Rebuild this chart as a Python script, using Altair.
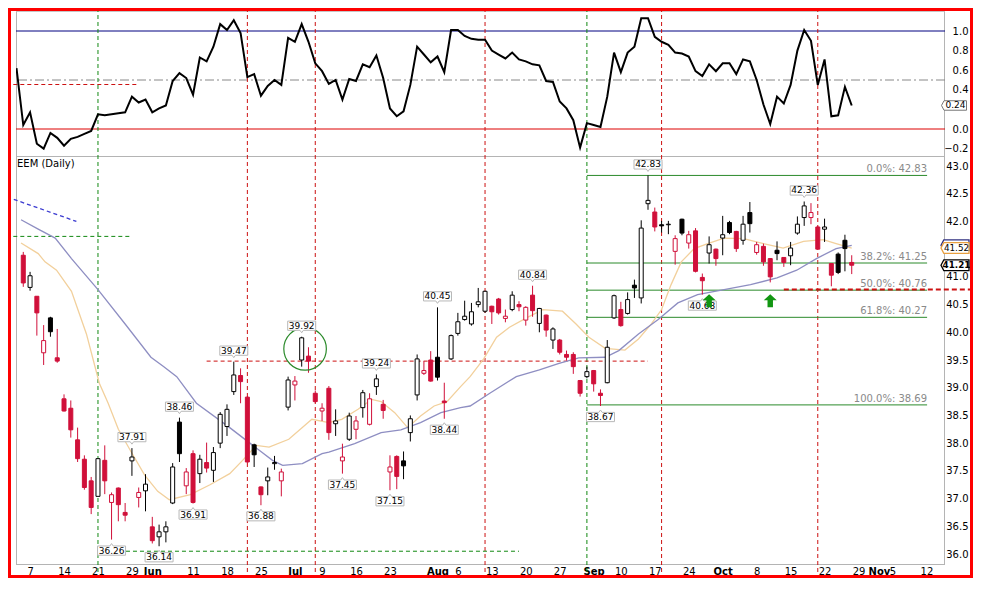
import json
import altair as alt
import pandas as pd

# ---------------- data ----------------
# trading-day index: 0 = May 4 2012 ... 122 = Oct 26 2012
day_idx = list(range(123))
prior_close = 41.50
opens = [41.39, 40.81, 40.65, 39.63, 40.26, 39.54, 38.80, 38.63, 38.06, 37.71,
         37.32, 37.04, 37.69, 36.93, 37.19, 36.75, 37.68, 37.02, 37.14, 36.49,
         36.31, 36.40, 36.92, 38.38, 37.23, 37.81, 37.45, 37.65, 37.51, 38.00,
         38.30, 38.93, 39.22, 38.83, 37.97, 37.21, 37.32, 37.63, 37.32, 38.65,
         39.05, 39.50, 39.57, 38.90, 38.58, 38.99, 38.35, 37.68, 38.07, 38.25,
         38.64, 38.34, 39.02, 38.70, 37.48, 37.76, 37.68, 38.19, 38.87, 39.26,
         39.50, 39.55, 38.76, 39.52, 39.98, 40.23, 40.15, 40.50, 40.38, 40.47,
         40.60, 40.25, 40.41, 40.50, 40.22, 40.67, 40.16, 40.31, 39.86, 39.86,
         39.60, 39.60, 39.13, 39.20, 39.31, 38.90, 39.09, 40.26, 40.41, 40.34,
         40.85, 40.62, 42.32, 42.17, 41.94, 41.94, 41.46, 42.04, 41.61, 41.83,
         40.99, 41.43, 41.50, 41.70, 41.98, 41.82, 41.66, 42.16, 41.44, 41.55,
         41.33, 41.48, 41.35, 41.38, 41.79, 42.07, 42.07, 41.90, 41.86, 41.24,
         41.41, 41.66, 41.26]
highs = [41.45, 41.09, 40.65, 40.13, 40.28, 40.06, 38.88, 38.77, 38.28, 37.78,
         37.39, 37.72, 37.96, 37.11, 37.20, 36.92, 37.91, 37.20, 37.44, 36.67,
         36.53, 36.59, 37.64, 38.46, 37.55, 37.87, 37.79, 38.01, 37.93, 38.56,
         38.70, 39.47, 39.35, 38.85, 37.99, 37.22, 37.56, 37.77, 37.54, 39.20,
         39.21, 39.92, 39.73, 38.95, 38.72, 39.03, 38.61, 37.99, 38.55, 38.49,
         38.96, 38.90, 39.24, 38.78, 37.78, 37.78, 37.85, 38.50, 39.60, 39.48,
         39.66, 40.45, 39.09, 39.96, 40.35, 40.57, 40.53, 40.80, 40.75, 40.48,
         40.62, 40.41, 40.74, 40.56, 40.47, 40.84, 40.44, 40.32, 40.09, 39.88,
         39.67, 39.64, 39.14, 39.38, 39.32, 38.97, 39.86, 40.68, 40.55, 40.72,
         40.95, 42.02, 42.83, 42.25, 42.01, 42.01, 41.75, 42.05, 41.83, 41.88,
         41.06, 41.73, 41.51, 42.10, 42.01, 41.83, 42.10, 42.35, 41.63, 41.60,
         41.34, 41.64, 41.35, 41.63, 42.09, 42.36, 42.33, 41.92, 42.05, 41.24,
         41.44, 41.76, 41.39]
lows = [40.82, 40.75, 39.94, 39.41, 39.92, 39.45, 38.57, 38.10, 37.66, 37.16,
        36.72, 37.04, 37.08, 36.26, 36.59, 36.59, 37.41, 36.84, 36.77, 36.19,
        36.14, 36.21, 36.90, 37.66, 37.08, 36.91, 37.28, 37.47, 37.30, 37.91,
        38.13, 38.87, 38.72, 37.64, 37.57, 36.88, 37.06, 37.52, 37.04, 38.59,
        38.77, 39.38, 39.27, 38.72, 38.40, 38.06, 38.13, 37.45, 38.04, 38.07,
        38.46, 38.32, 38.87, 38.44, 37.15, 37.17, 37.35, 38.03, 38.77, 39.23,
        39.11, 39.13, 38.44, 39.50, 39.94, 40.21, 40.12, 40.45, 40.35, 40.15,
        40.32, 40.18, 40.38, 40.38, 40.12, 40.28, 40.00, 39.92, 39.70, 39.60,
        39.49, 39.25, 38.84, 39.17, 38.93, 38.67, 39.08, 40.24, 40.10, 40.32,
        40.62, 40.52, 42.21, 41.82, 41.80, 41.77, 41.22, 41.75, 41.51, 41.08,
        40.68, 41.24, 41.20, 41.39, 41.77, 41.45, 41.58, 41.80, 41.40, 41.20,
        40.90, 41.30, 41.18, 41.21, 41.76, 41.92, 41.95, 41.50, 41.63, 40.83,
        41.05, 41.10, 41.05]
closes = [40.89, 41.02, 40.35, 39.85, 40.01, 39.48, 38.58, 38.24, 37.72, 37.20,
          36.84, 37.72, 37.32, 37.07, 36.89, 36.70, 37.75, 37.11, 37.26, 36.24,
          36.40, 36.49, 37.57, 37.81, 37.48, 36.93, 37.71, 37.55, 37.83, 38.52,
          38.61, 39.23, 39.11, 37.66, 37.79, 37.07, 37.39, 37.65, 37.48, 39.14,
          39.12, 39.90, 39.48, 38.75, 38.63, 38.19, 38.40, 37.75, 38.49, 38.40,
          38.91, 38.80, 39.16, 38.59, 37.57, 37.40, 37.59, 38.44, 39.52, 39.31,
          39.12, 39.19, 38.73, 39.94, 40.19, 40.29, 40.37, 40.55, 40.74, 40.37,
          40.35, 40.29, 40.67, 40.46, 40.45, 40.39, 40.43, 40.04, 40.06, 39.64,
          39.55, 39.38, 38.90, 39.29, 39.07, 38.86, 39.73, 40.66, 40.12, 40.59,
          40.80, 41.88, 42.38, 41.90, 41.92, 41.95, 41.69, 41.79, 41.76, 41.10,
          40.93, 41.58, 41.33, 41.76, 41.80, 41.51, 41.95, 41.96, 41.58, 41.27,
          41.00, 41.42, 41.26, 41.52, 41.95, 42.28, 42.16, 41.50, 41.90, 41.03,
          41.08, 41.51, 41.21]

# correlation indicator (upper panel)
corr_i = list(range(-1, 123))
corr_v = [0.62,
          0.04, 0.17, -0.15, -0.20, -0.04, -0.09, -0.17, -0.10, -0.08, -0.05, -0.02,
          0.15, 0.14, 0.15, 0.16, 0.17, 0.33, 0.27, 0.30, 0.17, 0.21,
          0.24, 0.49, 0.57, 0.52, 0.35, 0.73, 0.69, 0.84, 1.07, 1.01,
          1.11, 0.98, 0.53, 0.56, 0.34, 0.44, 0.50, 0.45, 0.93, 0.89,
          1.07, 0.89, 0.67, 0.59, 0.46, 0.50, 0.30, 0.51, 0.49, 0.66,
          0.63, 0.75, 0.52, 0.21, 0.13, 0.18, 0.45, 0.84, 0.76, 0.68,
          0.74, 0.58, 1.01, 1.01, 0.95, 0.92, 0.91, 0.91, 0.80, 0.76,
          0.72, 0.78, 0.71, 0.69, 0.66, 0.65, 0.49, 0.48, 0.28, 0.21,
          0.09, -0.19, 0.06, 0.04, 0.02, 0.33, 0.78, 0.58, 0.78, 0.84,
          1.13, 1.13, 0.94, 0.89, 0.86, 0.78, 0.77, 0.74, 0.59, 0.54,
          0.66, 0.59, 0.67, 0.67, 0.56, 0.71, 0.69, 0.50, 0.25, 0.05,
          0.33, 0.26, 0.45, 0.80, 1.01, 0.90, 0.45, 0.71, 0.13, 0.14,
          0.43, 0.24]
corr_grid = 1.2
corr_levels = {"blue": 1.0, "dashdot": 0.5, "red": 0.0}

# moving averages
tan_i = [-0.33, 2.2, 3.2, 4.9, 7.1, 9.3, 11.2, 12.5, 14.0, 15.9, 17.9, 19.8, 21.5, 24.6, 27.5,
         30.4, 32.3, 34.3, 36.2, 39.1, 42.5, 45.0, 46.9, 49.3, 51.3, 52.7, 54.7, 56.6, 58.5,
         60.5, 62.4, 64.4, 65.8, 67.8, 69.7, 71.6, 74.1, 76.5, 79.4, 81.4, 83.3, 85.7, 88.6,
         90.6, 92.5, 94.0, 95.4, 96.9, 98.8, 100.8, 103.2, 106.1, 109.0, 111.9, 114.9, 117.8,
         119.7, 122.0]
tan_p = [41.61, 41.42, 41.27, 41.12, 40.74, 39.97, 39.08, 38.72, 38.25, 37.84, 37.42, 37.13,
         36.98, 37.07, 37.25, 37.45, 37.69, 37.96, 37.93, 38.07, 38.43, 38.37, 38.43, 38.61,
         38.79, 38.75, 38.55, 38.28, 38.49, 38.67, 38.75, 39.02, 39.20, 39.52, 39.91, 40.09,
         40.26, 40.41, 40.38, 40.15, 39.91, 39.71, 39.68, 39.88, 40.15, 40.41, 40.86, 41.27,
         41.51, 41.60, 41.70, 41.69, 41.60, 41.52, 41.64, 41.67, 41.60, 41.52]
pur_i = [-0.33, 2.2, 4.7, 7.1, 11.0, 15.0, 18.8, 20.7, 22.6, 25.5, 30.4, 33.8, 36.7, 38.2,
         41.1, 44.0, 45.0, 48.8, 52.7, 55.6, 58.5, 61.5, 64.4, 65.8, 68.7, 72.6, 76.0, 78.9,
         81.8, 85.7, 87.7, 90.6, 93.5, 96.4, 99.3, 103.2, 107.1, 111.0, 113.9, 116.8, 119.7,
         122.0]
pur_p = [42.03, 41.86, 41.70, 41.33, 40.77, 40.15, 39.55, 39.38, 39.20, 38.72, 38.28, 37.96,
         37.69, 37.60, 37.63, 37.81, 37.84, 37.99, 38.19, 38.24, 38.37, 38.55, 38.64, 38.67,
         38.90, 39.20, 39.32, 39.44, 39.54, 39.55, 39.67, 39.97, 40.23, 40.53, 40.68, 40.77,
         40.86, 40.98, 41.12, 41.33, 41.51, 41.57]

# annotations
label_hi_idx = [16, 23, 31, 41, 52, 61, 75, 92, 115]
label_lo_idx = [13, 20, 25, 35, 47, 54, 62, 85, 100]
vline_red = [33, 43, 68, 94, 117]
vline_green = [11, 83]
fib_pct = [0.0, 38.2, 50.0, 61.8, 100.0]
fib_val = [42.83, 41.25, 40.76, 40.27, 38.69]
fib_from, fib_to = 83, 133.1
seg_top_red = ([-2.5], [16.7], [0.454])
seg_red = ([27], [92], [39.48])
seg_green = ([-2.5, 11], [16, 73], [41.73, 36.05])
seg_red_thick = ([112], [139.5], [40.77])
trend_i = [-2.37, 7.82]
trend_p = [42.44, 42.00]
circle_i, circle_p = [41.5], [39.70]
arrow_i, arrow_p = [101, 110], [40.57, 40.57]

tick_pos = [1, 6, 11, 16, 19, 25, 30, 35, 40, 44, 49, 54, 61, 64, 69, 74, 79, 84, 88, 93,
            98, 103, 108, 113, 118, 123, 126, 128, 133]
tick_txt = ["7", "14", "21", "29", "Jun", "11", "18", "25", "Jul", "9", "16", "23", "Aug",
            "6", "13", "20", "27", "Sep", "10", "17", "24", "Oct", "8", "15", "22", "29",
            "Nov", "5", "12"]
month_pos = [19, 40, 61, 84, 103, 126]
main_ticks = [36.0, 36.5, 37.0, 37.5, 38.0, 38.5, 39.0, 39.5, 40.0, 40.5, 41.0, 42.0, 42.5, 43.0]
top_ticks = [-0.2, 0.0, 0.4, 0.6, 0.8, 1.0]

# ---------------- styling ----------------
RED = "#d0103a"
FONT = "DejaVu Sans"
GREEN = "#2b8a2b"
DRED = "#cc1111"
BORDER = "#b4b4b4"
FRAME = "#ff0000"
W, H = 929, 557
SVG_W, SVG_H = 965, 570

xs = alt.Scale(domain=[-0.335, 135.0], nice=False, zero=False)
ts = alt.Scale(domain=[-0.2755, 1.2347], range=[148, 0], nice=False, zero=False)
ms = alt.Scale(domain=[35.8016, 43.1624], range=[557, 149], nice=False, zero=False)

XAXIS = alt.Axis(
    values=tick_pos,
    labelExpr=f"{json.dumps(tick_txt)}[indexof({json.dumps(tick_pos)}, datum.value)]",
    labelOverlap=False, labelFlush=False, grid=False, domain=False, ticks=False,
    labelFont=FONT, labelFontSize=10, labelColor="black", labelPadding=1,
    labelFontWeight={"condition": {"test": f"indexof({json.dumps(month_pos)}, datum.value) >= 0",
                                   "value": "bold"}, "value": "normal"},
)


def yaxis(vals):
    return alt.Axis(orient="right", values=vals, format=".1f", labelAlign="right",
                    labelPadding=23, ticks=False, tickSize=0, domain=False, grid=False,
                    labelOverlap=False, labelFont=FONT, labelFontSize=10,
                    labelColor="black", labelBaseline="middle")


def X(f="i"):
    return alt.X(f"{f}:Q", scale=xs, axis=XAXIS, title=None)


def YT(f, axis=None):
    return alt.Y(f"{f}:Q", scale=ts, axis=axis, title=None)


def YM(f, axis=None):
    return alt.Y(f"{f}:Q", scale=ms, axis=axis, title=None)


one = pd.DataFrame({"a": [0]})
layers = []

# ---- panel borders ----
layers.append(alt.Chart(one).mark_rule(color=BORDER).encode(x=alt.value(0.5), y=alt.value(0), y2=alt.value(H)))
layers.append(alt.Chart(one).mark_rule(color=BORDER).encode(x=alt.value(W - 0.5), y=alt.value(0), y2=alt.value(H)))
layers.append(alt.Chart(one).mark_rule(color=BORDER).encode(x=alt.value(0), x2=alt.value(W), y=alt.value(H - 0.5)))
layers.append(alt.Chart(one).mark_rule(color=BORDER).encode(x=alt.value(0), x2=alt.value(W), y=alt.value(148.5)))

# ---- upper panel ----
for val, col, dash in [(corr_grid, "#c0c0c0", None), (corr_levels["blue"], "#000080", None),
                       (corr_levels["dashdot"], "#888888", [9, 3, 2, 3]),
                       (corr_levels["red"], "#dd0000", None)]:
    kw = {"strokeDash": dash} if dash else {}
    layers.append(alt.Chart(pd.DataFrame({"v": [val]})).mark_rule(color=col, strokeWidth=1, **kw).encode(
        y=YT("v")))
sdf = pd.DataFrame({"i1": seg_top_red[0], "i2": seg_top_red[1], "v": seg_top_red[2]})
layers.append(alt.Chart(sdf).mark_rule(color=DRED, strokeDash=[4, 3]).encode(x=X("i1"), x2="i2", y=YT("v")))

# ---- vertical markers ----
layers.append(alt.Chart(pd.DataFrame({"i": vline_red})).mark_rule(color=DRED, strokeDash=[4, 3]).encode(
    x=X("i"), y=alt.value(0), y2=alt.value(567)))
layers.append(alt.Chart(pd.DataFrame({"i": vline_green})).mark_rule(color="#118811", strokeDash=[4, 3]).encode(
    x=X("i"), y=alt.value(0), y2=alt.value(567)))

# correlation line
layers.append(alt.Chart(pd.DataFrame({"i": corr_i, "v": corr_v})).mark_line(
    color="black", strokeWidth=2, clip=True).encode(x=X("i"), y=YT("v", yaxis(top_ticks))))

# ---- main panel ----
fdf = pd.DataFrame({"i1": [fib_from] * len(fib_val), "i2": [fib_to] * len(fib_val), "v": fib_val,
                    "t": [f"{p:.1f}%: {v:.2f}" for p, v in zip(fib_pct, fib_val)]})
layers.append(alt.Chart(fdf).mark_rule(color=GREEN, strokeWidth=1).encode(x=X("i1"), x2="i2", y=YM("v")))
layers.append(alt.Chart(fdf).mark_text(align="right", baseline="bottom", dy=-1, font=FONT, fontSize=10,
                                       color="#8a8a8a").encode(x=X("i2"), y=YM("v"), text="t:N"))

sdf = pd.DataFrame({"i1": seg_red[0], "i2": seg_red[1], "v": seg_red[2]})
layers.append(alt.Chart(sdf).mark_rule(color=DRED, strokeDash=[4, 3]).encode(x=X("i1"), x2="i2", y=YM("v")))
sdf = pd.DataFrame({"i1": seg_green[0], "i2": seg_green[1], "v": seg_green[2]})
layers.append(alt.Chart(sdf).mark_rule(color="#118811", strokeDash=[4, 3]).encode(x=X("i1"), x2="i2", y=YM("v")))
sdf = pd.DataFrame({"i1": seg_red_thick[0], "i2": seg_red_thick[1], "v": seg_red_thick[2]})
layers.append(alt.Chart(sdf).mark_rule(color=DRED, strokeDash=[5, 3], strokeWidth=2).encode(
    x=X("i1"), x2="i2", y=YM("v")))

layers.append(alt.Chart(pd.DataFrame({"i": trend_i, "p": trend_p})).mark_line(
    color="#3a3ad0", strokeDash=[4, 3], strokeWidth=1.3).encode(x=X("i"), y=YM("p")))

layers.append(alt.Chart(pd.DataFrame({"i": tan_i, "p": tan_p})).mark_line(
    color="#f2d09c", strokeWidth=1.3).encode(x=X("i"), y=YM("p")))
layers.append(alt.Chart(pd.DataFrame({"i": pur_i, "p": pur_p})).mark_line(
    color="#8e8ec2", strokeWidth=1.3).encode(x=X("i"), y=YM("p")))

# candles
cdf = pd.DataFrame({"i": day_idx, "o": opens, "h": highs, "l": lows, "c": closes})
prev = [prior_close] + closes[:-1]
cdf["dn"] = [bool(c < p) for c, p in zip(closes, prev)]
cdf["hollow"] = [bool(c >= o) for c, o in zip(closes, opens)]
cbase = alt.Chart(cdf).transform_calculate(
    sc=f"datum.dn ? '{RED}' : '#000000'",
    fc=f"datum.hollow ? '#ffffff' : (datum.dn ? '{RED}' : '#000000')")
layers.append(cbase.mark_rule(strokeWidth=1).encode(
    x=X("i"), y=YM("l", yaxis(main_ticks)), y2="h", color=alt.Color("sc:N", scale=None)))
layers.append(cbase.mark_bar(size=4, strokeWidth=1).encode(
    x=X("i"), y=YM("o"), y2="c",
    fill=alt.Fill("fc:N", scale=None), stroke=alt.Stroke("sc:N", scale=None)))

# circle
layers.append(alt.Chart(pd.DataFrame({"i": circle_i, "p": circle_p})).mark_point(
    shape="circle", size=1810, filled=False, color="#2a8a2a", strokeWidth=1.2, opacity=1).encode(
    x=X("i"), y=YM("p")))

# high / low call-outs
BOX_UP = "M-1,-0.33 L1,-0.33 L1,0.33 L0.12,0.33 L0,0.5 L-0.12,0.33 L-1,0.33 Z"
BOX_DN = "M-1,-0.33 L-0.12,-0.33 L0,-0.5 L0.12,-0.33 L1,-0.33 L1,0.33 L-1,0.33 Z"
hi_df = pd.DataFrame({"i": label_hi_idx, "p": [highs[k] for k in label_hi_idx],
                      "t": [f"{highs[k]:.2f}" for k in label_hi_idx]})
lo_df = pd.DataFrame({"i": label_lo_idx, "p": [lows[k] for k in label_lo_idx],
                      "t": [f"{lows[k]:.2f}" for k in label_lo_idx]})
for df, shp, off in [(hi_df, BOX_UP, -11), (lo_df, BOX_DN, 11)]:
    layers.append(alt.Chart(df).mark_point(shape=shp, size=784, filled=True, fill="white",
                                           stroke="#b8b8b8", strokeWidth=1, opacity=1,
                                           yOffset=off).encode(x=X("i"), y=YM("p")))
    layers.append(alt.Chart(df).mark_text(font=FONT, fontSize=9, color="black", baseline="middle",
                                          yOffset=off).encode(x=X("i"), y=YM("p"), text="t:N"))

ARROW = "M0,-1 L1,-0.05 L0.42,-0.05 L0.42,1 L-0.42,1 L-0.42,-0.05 L-1,-0.05 Z"
layers.append(alt.Chart(pd.DataFrame({"i": arrow_i, "p": arrow_p})).mark_point(
    shape=ARROW, size=169, filled=True, color="#129612", opacity=1, strokeWidth=0).encode(
    x=X("i"), y=YM("p")))

layers.append(alt.Chart(one).mark_text(align="left", baseline="middle", font=FONT, fontSize=10,
                                       color="black").encode(
    x=alt.value(1), y=alt.value(155.5), text=alt.value("EEM (Daily)")))

# right-edge value tags
TAG = "M-1,0 L-0.8,-0.38 L1,-0.38 L1,0.38 L-0.8,0.38 Z"
d = pd.DataFrame({"p": [pur_p[-1]]})
layers.append(alt.Chart(d).mark_point(shape=TAG, size=784, filled=True, fill="white", stroke="#303080",
                                      strokeWidth=1.3, opacity=1).encode(x=alt.value(939), y=YM("p")))
for val, col, wt in [(tan_p[-1], "#e8a040", "normal"), (closes[-1], "#000000", "bold")]:
    d = pd.DataFrame({"p": [val], "t": [f"{val:.2f}"]})
    layers.append(alt.Chart(d).mark_point(shape=TAG, size=784, filled=True, fill="white", stroke=col,
                                          strokeWidth=1.3, opacity=1).encode(
        x=alt.value(939), y=YM("p")))
    layers.append(alt.Chart(d).mark_text(font=FONT, fontSize=8.8, fontWeight=wt, color="black",
                                         baseline="middle").encode(
        x=alt.value(940.5), y=YM("p"), text="t:N"))
d = pd.DataFrame({"v": [corr_v[-1]], "t": [f"{corr_v[-1]:.2f}"]})
layers.append(alt.Chart(d).mark_point(shape=TAG, size=625, filled=True, fill="white", stroke="#777777",
                                      strokeWidth=1, opacity=1).encode(x=alt.value(938), y=YT("v")))
layers.append(alt.Chart(d).mark_text(font=FONT, fontSize=9, color="black", baseline="middle").encode(
    x=alt.value(939.5), y=YT("v"), text="t:N"))

# outer red frame (drawn at the chart's own edges)
layers.append(alt.Chart(one).mark_rule(color=FRAME, strokeWidth=3).encode(
    x=alt.value(-6.5), y=alt.value(0), y2=alt.value(SVG_H)))
layers.append(alt.Chart(one).mark_rule(color=FRAME, strokeWidth=3).encode(
    x=alt.value(SVG_W - 8 - 1.5), y=alt.value(0), y2=alt.value(SVG_H)))
layers.append(alt.Chart(one).mark_rule(color=FRAME, strokeWidth=3).encode(
    y=alt.value(1.5), x=alt.value(-8), x2=alt.value(SVG_W - 8)))
layers.append(alt.Chart(one).mark_rule(color=FRAME, strokeWidth=3).encode(
    y=alt.value(SVG_H - 1.5), x=alt.value(-8), x2=alt.value(SVG_W - 8)))

chart = alt.layer(*layers).resolve_scale(y="independent").properties(
    width=W, height=H,
    autosize=alt.AutoSizeParams(type="none"),
    padding={"left": 8, "top": 0, "right": SVG_W - 8 - W, "bottom": SVG_H - H},
    background="white",
).configure_view(stroke=None)

chart.save("out.html", embed_options={"renderer": "svg", "actions": False})
